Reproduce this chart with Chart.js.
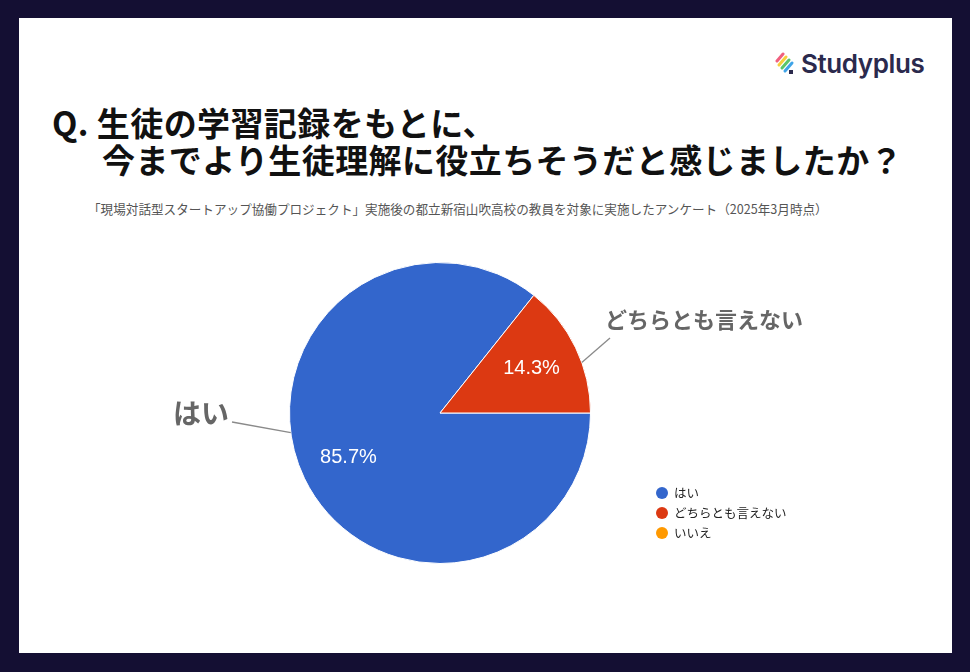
<!DOCTYPE html>
<html lang="ja">
<head>
<meta charset="utf-8">
<script src="https://cdn.jsdelivr.net/npm/chart.js@4"></script>
<style>
  html, body { margin: 0; padding: 0; }
  body { width: 970px; height: 672px; background: #140f33; position: relative; overflow: hidden; font-family: "Noto Sans CJK JP", sans-serif; }
  #card { position: absolute; left: 19px; top: 18px; width: 933px; height: 635px; background: #fff; }
  #chart { position: absolute; left: 0; top: 0; }
  .title { position: absolute; font-weight: 700; font-size: 33px; letter-spacing: 0.4px; color: #111; white-space: nowrap; line-height: 1; }
  #sub { position: absolute; left: 88px; top: 199px; font-size: 12.6px; color: #555; white-space: nowrap; }
  #logo { position: absolute; left: 774px; top: 48px; display: flex; align-items: center; }
  #logo span { font-family: Inter, sans-serif; font-weight: 600; font-size: 26px; color: #2b2a4d; margin-left: 3px; letter-spacing: -0.4px; }
</style>
</head>
<body>
<div id="card"></div>
<div id="logo">
  <svg width="24" height="24" viewBox="0 0 24 24">
    <line x1="3" y1="9" x2="9" y2="2" stroke="#f0607e" stroke-width="3" stroke-linecap="round"/>
    <line x1="5" y1="13" x2="12" y2="5" stroke="#f7cf3c" stroke-width="3" stroke-linecap="round"/>
    <line x1="8" y1="16" x2="15" y2="8" stroke="#5cc56a" stroke-width="3" stroke-linecap="round"/>
    <line x1="11" y1="19" x2="18" y2="11" stroke="#3fa4e8" stroke-width="3" stroke-linecap="round"/>
    <rect x="15" y="18" width="4" height="4" fill="#2b2a4d"/>
  </svg>
  <span>Studyplus</span>
</div>
<div class="title" style="left:52px; top:106px;">Q. 生徒の学習記録をもとに、</div>
<div class="title" style="left:102px; top:143px;">今までより生徒理解に役立ちそうだと感じましたか？</div>
<div id="sub">「現場対話型スタートアップ協働プロジェクト」実施後の都立新宿山吹高校の教員を対象に実施したアンケート（2025年3月時点）</div>
<canvas id="chart" width="970" height="672"></canvas>
<script>
const labels = ['はい', 'どちらとも言えない', 'いいえ'];
const counts = [6, 1, 0];
const colors = ['#3366cc', '#dc3912', '#ff9900'];

// callout labels outside the pie: angle on rim (deg), end point offset from centre
const callouts = [
  { i: 0, ang: 172.5, ex: -208, ey: 9, tx: -211, ty: 0, size: 28, align: 'right' },
  { i: 1, ang: -19.6, ex: 170, ey: -75, tx: 165, ty: -93, size: 22, align: 'left' }
];

const pieLabels = {
  id: 'pieLabels',
  afterDatasetsDraw(chart) {
    const ctx = chart.ctx;
    const arcs = chart.getDatasetMeta(0).data;
    const total = counts.reduce((a, b) => a + b, 0);
    const cx = arcs[0].x, cy = arcs[0].y, r = arcs[0].outerRadius;
    ctx.save();
    // percentages
    ctx.fillStyle = '#fff';
    ctx.font = '20px "Liberation Sans", Arial, sans-serif';
    ctx.textAlign = 'center';
    ctx.textBaseline = 'middle';
    arcs.forEach((a, i) => {
      if (!counts[i]) return;
      const mid = (a.startAngle + a.endAngle) / 2;
      const pct = (counts[i] / total * 100).toFixed(1) + '%';
      ctx.fillText(pct, cx + Math.cos(mid) * r * 0.675, cy + Math.sin(mid) * r * 0.675);
    });
    // callouts
    callouts.forEach(c => {
      const t = c.ang * Math.PI / 180;
      ctx.strokeStyle = '#8a8a8a';
      ctx.lineWidth = 1.3;
      ctx.beginPath();
      ctx.moveTo(cx + Math.cos(t) * r, cy + Math.sin(t) * r);
      ctx.lineTo(cx + c.ex, cy + c.ey);
      ctx.stroke();
      ctx.fillStyle = '#666';
      ctx.font = 'bold ' + c.size + 'px "Noto Sans CJK JP", sans-serif';
      ctx.textAlign = c.align;
      ctx.fillText(labels[c.i], cx + c.tx, cy + c.ty);
    });
    // legend
    ctx.font = '12.5px "Noto Sans CJK JP", sans-serif';
    ctx.textAlign = 'left';
    labels.forEach((l, i) => {
      const y = 493 + i * 20;
      ctx.fillStyle = colors[i];
      ctx.beginPath();
      ctx.arc(662, y, 6, 0, Math.PI * 2);
      ctx.fill();
      ctx.fillStyle = '#222';
      ctx.fillText(l, 674, y);
    });
    ctx.restore();
  }
};

new Chart(document.getElementById('chart'), {
  type: 'pie',
  data: {
    labels: labels,
    datasets: [{
      data: counts,
      backgroundColor: colors,
      borderColor: '#fff',
      borderWidth: 1
    }]
  },
  options: {
    responsive: false,
    animation: false,
    rotation: 90,
    layout: { padding: { left: 289, right: 379, top: 262, bottom: 108 } },
    plugins: { legend: { display: false }, tooltip: { enabled: false } }
  },
  plugins: [pieLabels]
});
</script>
</body>
</html>
